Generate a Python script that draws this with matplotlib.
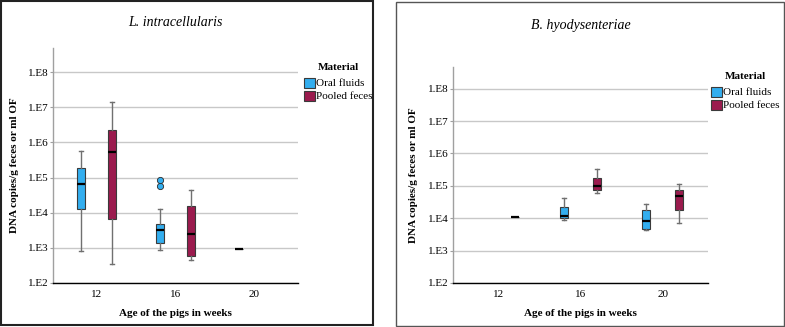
import matplotlib
matplotlib.use("Agg")
import matplotlib.pyplot as plt
from matplotlib.patches import Rectangle, Patch

plt.rcParams['font.family'] = ['Liberation Serif', 'DejaVu Serif']

weeks = ['12', '16', '20']
series = ['Oral fluids', 'Pooled feces']
colors = {'Oral fluids': '#33AEEF', 'Pooled feces': '#9B1B4E'}

# log10(DNA copies) box statistics: [whislo, q1, med, q3, whishi] per week (None = no data)
L_oral = [[2.90, 4.10, 4.83, 5.27, 5.77],
          [2.93, 3.13, 3.51, 3.68, 4.10],
          [2.98, 2.98, 2.98, 2.98, 2.98]]
L_oral_fliers = [[], [4.75, 4.93], []]
L_pooled = [[2.53, 3.82, 5.72, 6.36, 7.14],
            [2.66, 2.77, 3.39, 4.19, 4.65],
            None]

B_oral = [None,
          [3.96, 4.00, 4.06, 4.34, 4.62],
          [3.63, 3.67, 3.90, 4.24, 4.45]]
B_oral_fliers = [[], [], []]
B_pooled = [[4.05, 4.05, 4.05, 4.05, 4.05],
            [4.78, 4.88, 4.98, 5.25, 5.53],
            [3.84, 4.25, 4.68, 4.86, 5.06]]

yticks = [2, 3, 4, 5, 6, 7, 8]
ytick_labels = ['1.E2', '1.E3', '1.E4', '1.E5', '1.E6', '1.E7', '1.E8']

W, H = 785, 327
fig = plt.figure(figsize=(W / 100, H / 100), dpi=100)
FS = 8


def px_axes(x0, y0, x1, y1):
    return fig.add_axes([x0 / W, 1 - y1 / H, (x1 - x0) / W, (y1 - y0) / H])


def draw_panel(ax, oral, oral_fliers, pooled, title, ytop, title_y, leg_xy, ylab_x, xlab_y):
    ax.set_yscale('log')
    for s, data, fl, off in [('Oral fluids', oral, oral_fliers, -0.2),
                             ('Pooled feces', pooled, None, 0.2)]:
        for i, st in enumerate(data):
            if st is None:
                continue
            d = dict(whislo=10 ** st[0], q1=10 ** st[1], med=10 ** st[2],
                     q3=10 ** st[3], whishi=10 ** st[4],
                     fliers=[10 ** v for v in (fl[i] if fl else [])])
            single = st[0] == st[4]
            ax.bxp([d], positions=[i + off], widths=0.1, patch_artist=True,
                   showfliers=True,
                   boxprops=dict(facecolor=colors[s], edgecolor='#3a3a3a', linewidth=0.8),
                   medianprops=dict(color='black', linewidth=1.6),
                   whiskerprops=dict(color='#707070', linewidth=1.0),
                   capprops=dict(color='#707070', linewidth=1.0),
                   capwidths=0.05 if not single else 0.0,
                   flierprops=dict(marker='o', markersize=4.5, markerfacecolor=colors[s],
                                   markeredgecolor='#2a2a2a', markeredgewidth=0.6))
    ax.set_xlim(-0.55, 2.55)
    ax.set_ylim(1e2, 10 ** ytop)
    ax.set_xticks(range(len(weeks)))
    ax.set_xticklabels(weeks, fontsize=FS)
    ax.set_yticks([10 ** t for t in yticks])
    ax.set_yticklabels(ytick_labels, fontsize=FS)
    ax.minorticks_off()
    ax.tick_params(axis='x', length=0, pad=5)
    ax.tick_params(axis='y', length=2.5, color='#a0a0a0', pad=0.5)
    ax.grid(axis='y', color='#c8c8c8', linewidth=1.0)
    ax.set_axisbelow(True)
    for sp in ['top', 'right']:
        ax.spines[sp].set_visible(False)
    ax.spines['left'].set_color('#a0a0a0')
    ax.spines['left'].set_linewidth(1.0)
    ax.spines['bottom'].set_color('black')
    ax.spines['bottom'].set_linewidth(1.0)
    ax.set_xlabel('Age of the pigs in weeks', fontsize=FS, fontweight='bold')
    ax.xaxis.label.set_va('center')
    ax.set_ylabel('DNA copies/g feces or ml OF', fontsize=FS, fontweight='bold')
    ax.yaxis.label.set_va('center')
    pos = ax.get_position()
    ax.yaxis.set_label_coords(ylab_x / W, (pos.y0 + pos.y1) / 2, transform=fig.transFigure)
    ax.xaxis.set_label_coords((pos.x0 + pos.x1) / 2, 1 - xlab_y / H, transform=fig.transFigure)
    fig.text((pos.x0 + pos.x1) / 2, 1 - title_y / H, title,
             fontsize=10, style='italic', ha='center', va='center')
    handles = [Patch(facecolor=colors[s], edgecolor='#3a3a3a', linewidth=0.8) for s in series]
    leg = ax.legend(handles, series, title='Material', loc='upper left',
                    bbox_to_anchor=(leg_xy[0] / W, 1 - leg_xy[1] / H),
                    bbox_transform=fig.transFigure, frameon=False, fontsize=FS,
                    title_fontproperties={'weight': 'bold', 'size': FS},
                    handlelength=0.95, handleheight=1.0, handletextpad=0.15,
                    labelspacing=0.2, borderpad=0.0, borderaxespad=0.0,
                    alignment='center')
    leg._legend_box.sep = 4
    return leg


ax1 = px_axes(53, 48, 298, 283)
draw_panel(ax1, L_oral, L_oral_fliers, L_pooled, 'L. intracellularis', 8.69, 23,
           (304, 63), 15, 313)

ax2 = px_axes(453, 67, 708, 283)
draw_panel(ax2, B_oral, B_oral_fliers, B_pooled, 'B. hyodysenteriae', 8.67, 25,
           (711, 72), 414, 313)

# panel frames
fig.patches.append(Rectangle((1 / W, 1 - 325 / H), 372 / W, 324 / H, transform=fig.transFigure,
                             fill=False, edgecolor='#222222', linewidth=1.5))
fig.patches.append(Rectangle((396 / W, 1 - 326 / H), 388 / W, 324 / H, transform=fig.transFigure,
                             fill=False, edgecolor='#555555', linewidth=1.0))

fig.savefig('out.png', dpi=100)
